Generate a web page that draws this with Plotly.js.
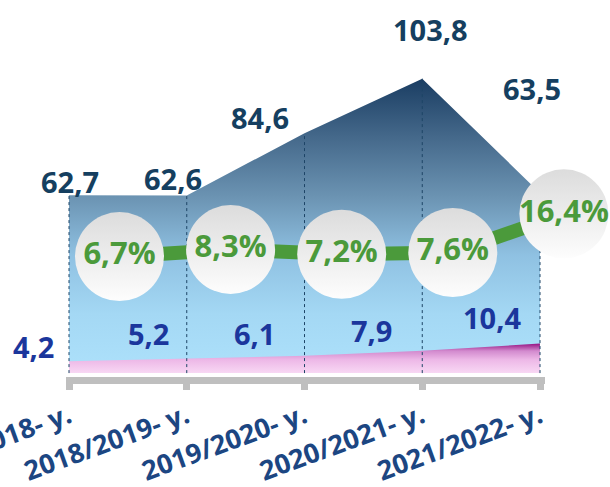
<!DOCTYPE html>
<html>
<head>
<meta charset="utf-8">
<script src="https://cdn.plot.ly/plotly-3.0.1.min.js"></script>
<style>html,body{margin:0;padding:0;background:#fff;}#chart{width:610px;height:487px;}</style>
</head>
<body>
<div id="chart"></div>
<script>
// ---- data ----
const categories = ['2017/2018- у.', '2018/2019- у.', '2019/2020- у.', '2020/2021- у.', '2021/2022- у.'];
const totalValues = [62.7, 62.6, 84.6, 103.8, 63.5];
const smallValues = [4.2, 5.2, 6.1, 7.9, 10.4];
const sharePct = [6.7, 8.3, 7.2, 7.6, 16.4];

// ---- label offsets (styling, px) ----
const totalShift = [[1, 14], [-14, 17], [-45, 16], [8, 49], [-8, 104]];
const smallShift = [[-36, 15], [-38, 25], [-50, 22], [-51, 20], [-48, 26]];

const fmt = v => v.toFixed(1).replace('.', ',');
const idx = categories.map((_, i) => i);
const FONT = 'Open Sans, DejaVu Sans, sans-serif';

const dotX = [], dotY = [];
idx.forEach(i => { dotX.push(i, i, null); dotY.push(0, totalValues[i], null); });

const traces = [
  {
    x: idx, y: totalValues, type: 'scatter', mode: 'lines', fill: 'tozeroy',
    line: {width: 0, color: 'rgba(0,0,0,0)'},
    fillgradient: {
      type: 'vertical', start: 0, stop: Math.max(...totalValues),
      colorscale: [[0, '#ade1fb'], [0.2, '#a4d8f4'], [0.4, '#8fc1e2'], [0.6, '#6b93b2'], [0.8, '#45698b'], [1, '#1a3d62']]
    },
    hoverinfo: 'skip', showlegend: false
  },
  {
    x: idx, y: smallValues, type: 'scatter', mode: 'lines', fill: 'tozeroy',
    line: {width: 0, color: 'rgba(0,0,0,0)'},
    fillgradient: {
      type: 'vertical', start: 0, stop: Math.max(...smallValues),
      colorscale: [[0, '#f8d8f4'], [0.45, '#edb8e7'], [0.75, '#d28ace'], [1, '#961483']]
    },
    hoverinfo: 'skip', showlegend: false
  },
  {
    x: dotX, y: dotY, type: 'scatter', mode: 'lines',
    line: {width: 1, color: '#1d4466', dash: 'dot'},
    hoverinfo: 'skip', showlegend: false
  },
  {
    x: idx, y: sharePct, xaxis: 'x2', yaxis: 'y2', type: 'scatter', mode: 'lines+markers+text',
    line: {width: 14, color: '#4b9a3b'},
    marker: {size: 89, color: '#dcdcdc', gradient: {type: 'vertical', color: '#fdfdfd'}, line: {width: 0}},
    text: sharePct.map(v => fmt(v) + '%'), textposition: 'middle center',
    textfont: {family: FONT, size: 31, color: '#4b9a3b', weight: 'bold'},
    cliponaxis: false, hoverinfo: 'skip', showlegend: false
  }
];

const annotations = [];
idx.forEach(i => {
  annotations.push({
    x: i, y: totalValues[i], xref: 'x', yref: 'y', text: fmt(totalValues[i]), showarrow: false,
    xshift: totalShift[i][0], yshift: totalShift[i][1], xanchor: 'center', yanchor: 'middle',
    font: {family: FONT, size: 29, color: '#153f60', weight: 'bold'}
  });
  annotations.push({
    x: i, y: smallValues[i], xref: 'x', yref: 'y', text: fmt(smallValues[i]), showarrow: false,
    xshift: smallShift[i][0], yshift: smallShift[i][1], xanchor: 'center', yanchor: 'middle',
    font: {family: FONT, size: 29, color: '#1b369c', weight: 'bold'}
  });
});

const layout = {
  width: 610, height: 487,
  margin: {l: 66, r: 0, t: 21, b: 110},
  paper_bgcolor: '#ffffff', plot_bgcolor: 'rgba(0,0,0,0)',
  showlegend: false,
  xaxis: {
    domain: [0, 479 / 544], anchor: 'y',
    range: [-0.0255, 4.0425], tickvals: idx, ticktext: categories, tickangle: -20,
    showgrid: false, zeroline: false, showline: true, linecolor: '#bfbfbf', linewidth: 7,
    ticks: 'outside', ticklen: 6, tickwidth: 7, tickcolor: '#bfbfbf', ticklabelstandoff: 0,
    ticklabeloverflow: 'allow', automargin: false,
    tickfont: {family: FONT, size: 27, color: '#1c4682', weight: 'bold'}, fixedrange: true
  },
  yaxis: {anchor: 'x', range: [-1.379, 124.14], visible: false, showgrid: false, zeroline: false, fixedrange: true},
  xaxis2: {domain: [0, 1], anchor: 'y2', range: [-0.4815, 4.415], visible: false, showgrid: false, zeroline: false},
  yaxis2: {domain: [0, 1], anchor: 'x2', range: [-20.68, 60.23], visible: false, showgrid: false, zeroline: false},
  annotations: annotations
};

Plotly.newPlot('chart', traces, layout, {staticPlot: true, displayModeBar: false});
</script>
</body>
</html>
